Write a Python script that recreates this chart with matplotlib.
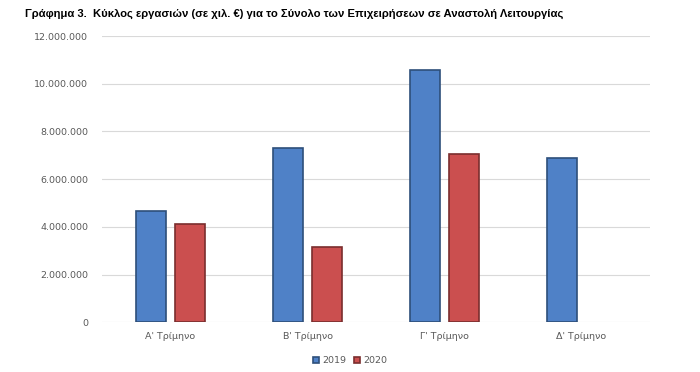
import matplotlib.pyplot as plt
import numpy as np

# Δεδομένα (χιλ. €)
trimina = ["Α' Τρίμηνο", "Β' Τρίμηνο", "Γ' Τρίμηνο", "Δ' Τρίμηνο"]
etos_2019 = [4680000, 7290000, 10570000, 6870000]
etos_2020 = [4120000, 3170000, 7050000, np.nan]
yticks = [0, 2000000, 4000000, 6000000, 8000000, 10000000, 12000000]
titlos = 'Γράφημα 3.  Κύκλος εργασιών (σε χιλ. €) για το Σύνολο των Επιχειρήσεων σε Αναστολή Λειτουργίας'

MPLE = '#4F81C7'
KOKKINO = '#CB4F4F'
GRAMMATA = '#595959'

fig = plt.figure(figsize=(7, 3.72), dpi=100)
ax = fig.add_axes([0.1457, 0.1336, 0.7829, 0.7694])

x = np.arange(len(trimina))
w = 0.22
gap = 0.065
b1 = ax.bar(x - (w + gap) / 2, etos_2019, w, color=MPLE, edgecolor='#2E4F7A',
            linewidth=1.2, label='2019', zorder=3)
b2 = ax.bar(x + (w + gap) / 2, etos_2020, w, color=KOKKINO, edgecolor='#7A2E2E',
            linewidth=1.2, label='2020', zorder=3)

ax.set_xlim(-0.5, len(trimina) - 0.5)
ax.set_ylim(0, 12000000)
ax.set_yticks(yticks)
ax.set_yticklabels([f'{v:,}'.replace(',', '.') for v in yticks])
ax.set_xticks(x)
ax.set_xticklabels(trimina)
ax.tick_params(axis='both', length=0, labelsize=6.8, labelcolor=GRAMMATA)
ax.tick_params(axis='y', pad=10)
ax.tick_params(axis='x', pad=7)
ax.grid(axis='y', color='#D9D9D9', linewidth=0.8, zorder=0)
for s in ax.spines.values():
    s.set_visible(False)

fig.text(0.036, 0.962, titlos, fontsize=8.1, fontweight='bold',
         family=['Liberation Sans', 'DejaVu Sans'], va='center')

fig.legend(handles=[b1, b2], loc='center', bbox_to_anchor=(0.5, 0.03),
           ncol=2, frameon=False, fontsize=6.8, handlelength=0.7,
           handleheight=0.7, handletextpad=0.3, columnspacing=0.8,
           labelcolor=GRAMMATA)

fig.savefig('out.png', dpi=100, facecolor='white')
